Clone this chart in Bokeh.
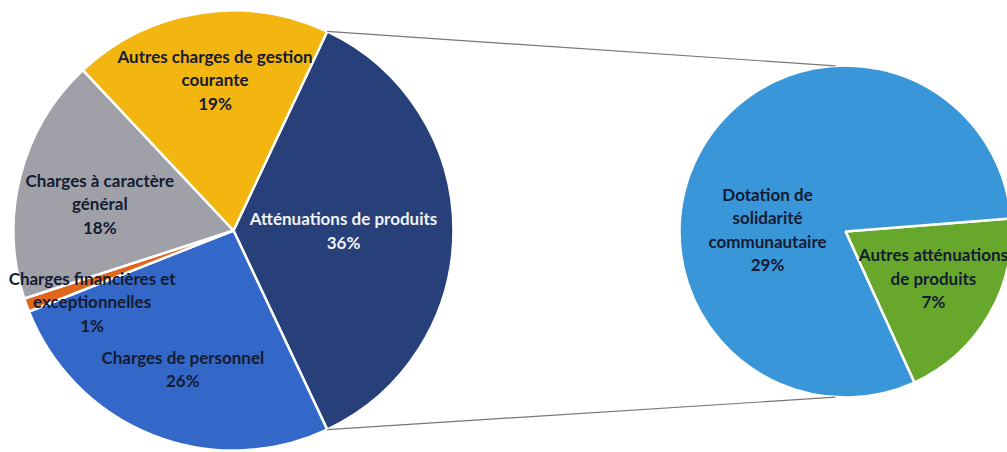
import math
from bokeh.plotting import figure
from bokeh.models import Range1d, ColumnDataSource
from bokeh.core.properties import value
from bokeh.embed import file_html
from bokeh.resources import INLINE

# ---------------- data ----------------
main_labels = ["Atténuations de produits", "Charges de personnel",
               "Charges financières et\nexceptionnelles",
               "Charges à caractère\ngénéral",
               "Autres charges de gestion\ncourante"]
main_values = [36, 26, 1, 18, 19]
main_colors = ["#27407A", "#3468C8", "#E0661C", "#A0A1A8", "#F3B50F"]

sub_labels = ["Autres atténuations\nde produits", "Dotation de\nsolidarité\ncommunautaire"]
sub_values = [7, 29]
sub_colors = ["#67A82C", "#3996D8"]

# ---------------- layout ----------------
W, H = 1007, 452
def Y(sy):  # screen y -> data y (y up)
    return H - sy

c1x, c1y, r1 = 233, Y(230), 220
c2x, c2y, r2 = 845, Y(231), 166
sub_start = 85.5  # clockwise-from-top degrees

# label placement: (radius fraction, angle nudge in degrees)
main_lab_pos = [(0.50, 0), (0.67, -1.5), (0.72, -7), (0.62, -3), (0.69, 2)]
sub_lab_pos = [(0.60, -2.5), (0.47, -29)]
main_text_col = ["#F2F2F2", "#141B33", "#141B33", "#141B33", "#141B33"]
sub_text_col = ["#141B33", "#141B33"]

p = figure(width=W, height=H, output_backend="svg", toolbar_location=None,
           x_range=Range1d(0, W), y_range=Range1d(0, H),
           min_border=0)
p.axis.visible = False
p.grid.visible = False
p.outline_line_color = None
p.background_fill_color = "white"
p.border_fill_color = "white"

def polar(cx, cy, r, theta_deg):
    t = math.radians(theta_deg)
    return cx + r * math.sin(t), cy + r * math.cos(t)

# main pie: centre of first slice on the right
total = sum(main_values)
start = 90 - main_values[0] / total * 360 / 2
m_s, m_e, m_mid = [], [], []
acc = start
for v in main_values:
    a = v / total * 360
    m_s.append(math.radians(90 - acc))
    m_e.append(math.radians(90 - acc - a))
    m_mid.append(acc + a / 2)
    acc += a
src1 = ColumnDataSource(dict(s=m_s, e=m_e, c=main_colors))
p.wedge(x=c1x, y=c1y, radius=r1, start_angle="s", end_angle="e", direction="clock",
        fill_color="c", line_color="white", line_width=2.5, source=src1)

# sub pie
stot = sum(sub_values)
s_s, s_e, s_mid = [], [], []
acc = sub_start
for v in sub_values:
    a = v / stot * 360
    s_s.append(math.radians(90 - acc))
    s_e.append(math.radians(90 - acc - a))
    s_mid.append(acc + a / 2)
    acc += a
src2 = ColumnDataSource(dict(s=s_s, e=s_e, c=sub_colors))
p.wedge(x=c2x, y=c2y, radius=r2, start_angle="s", end_angle="e", direction="clock",
        fill_color="c", line_color="white", line_width=2.5, source=src2)

# connector lines from the aggregated slice edges to the second pie
th_a = start
th_b = start + main_values[0] / total * 360
p1 = polar(c1x, c1y, r1, th_a)
p2 = polar(c1x, c1y, r1, th_b)
q1 = polar(c2x, c2y, r2, -3.5)
q2 = polar(c2x, c2y, r2, 183.5)
p.segment(x0=[p1[0], p2[0]], y0=[p1[1], p2[1]], x1=[q1[0], q2[0]], y1=[q1[1], q2[1]],
          line_color="#777777", line_width=1.2)

# labels
lx, ly, lt, lc = [], [], [], []
for i, v in enumerate(main_values):
    fr, nd = main_lab_pos[i]
    x, y = polar(c1x, c1y, r1 * fr, m_mid[i] + nd)
    lx.append(x); ly.append(y)
    lt.append(f"{main_labels[i]}\n{v}%"); lc.append(main_text_col[i])
for i, v in enumerate(sub_values):
    fr, nd = sub_lab_pos[i]
    x, y = polar(c2x, c2y, r2 * fr, s_mid[i] + nd)
    lx.append(x); ly.append(y)
    lt.append(f"{sub_labels[i]}\n{v}%"); lc.append(sub_text_col[i])
src3 = ColumnDataSource(dict(x=lx, y=ly, t=lt, c=lc))
p.text(x="x", y="y", text="t", text_color="c", source=src3,
       text_font=value("Lato"), text_font_style="bold", text_font_size="17px",
       text_align="center", text_baseline="middle", text_line_height=1.12)

open("out.html", "w").write(file_html(p, INLINE))
